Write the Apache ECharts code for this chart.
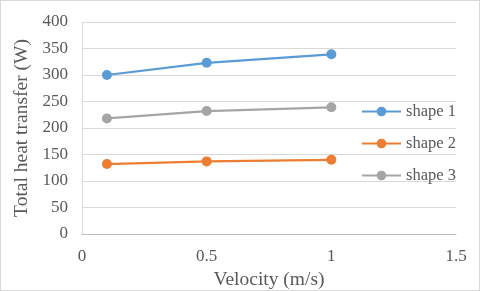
<!DOCTYPE html>
<html><head><meta charset="utf-8">
<script src="https://cdn.jsdelivr.net/npm/echarts@6/dist/echarts.min.js"></script>
<style>html,body{margin:0;padding:0;background:#fff}#c{width:478px;height:289px;border:1px solid #d9d9d9}</style>
</head><body><div id="c"></div>
<script>
var velocity = [0.1, 0.5, 1];
var shape1 = [300, 323, 339];
var shape2 = [132, 137, 140];
var shape3 = [218, 232, 239];
var seriesNames = ['shape 1', 'shape 2', 'shape 3'];
var colors = ['#5B9BD5', '#ED7D31', '#A5A5A5'];
var font = 'Liberation Serif';
function pairs(v){ return velocity.map(function(x,i){return [x, v[i]];}); }
var chart = echarts.init(document.getElementById('c'));
chart.setOption({
  animation: false,
  textStyle: {fontFamily: font},
  grid: {left: 81, right: 23, top: 21, bottom: 56, containLabel: false, outerBoundsMode: 'none'},
  legend: {
    orient: 'vertical', left: 355, top: 97, itemGap: 15, itemWidth: 39, itemHeight: 12, itemTextGap: 4,
    textStyle: {fontFamily: font, fontSize: 16.5, color: '#595959'},
    data: seriesNames
  },
  xAxis: {
    type: 'value', min: 0, max: 1.5, interval: 0.5,
    name: 'Velocity (m/s)', nameLocation: 'middle', nameGap: 32,
    nameTextStyle: {fontFamily: font, fontSize: 19.5, color: '#595959'},
    axisLine: {show: true, lineStyle: {color: '#bfbfbf'}},
    axisTick: {show: false},
    splitLine: {show: false},
    axisLabel: {fontFamily: font, fontSize: 17, color: '#595959', margin: 14}
  },
  yAxis: {
    type: 'value', min: 0, max: 400, interval: 50,
    name: 'Total heat transfer (W)', nameLocation: 'middle', nameGap: 42,
    nameTextStyle: {fontFamily: font, fontSize: 19.5, color: '#595959'},
    axisLine: {show: true, lineStyle: {color: '#d9d9d9'}},
    axisTick: {show: false},
    splitLine: {show: true, lineStyle: {color: '#d9d9d9'}},
    axisLabel: {fontFamily: font, fontSize: 17, color: '#595959', margin: 14}
  },
  series: [shape1, shape2, shape3].map(function(v, i){
    return {
      name: seriesNames[i], type: 'line', data: pairs(v),
      symbol: 'circle', symbolSize: 10, showAllSymbol: true,
      lineStyle: {color: colors[i], width: 2.25},
      itemStyle: {color: colors[i]}
    };
  })
});
</script></body></html>
